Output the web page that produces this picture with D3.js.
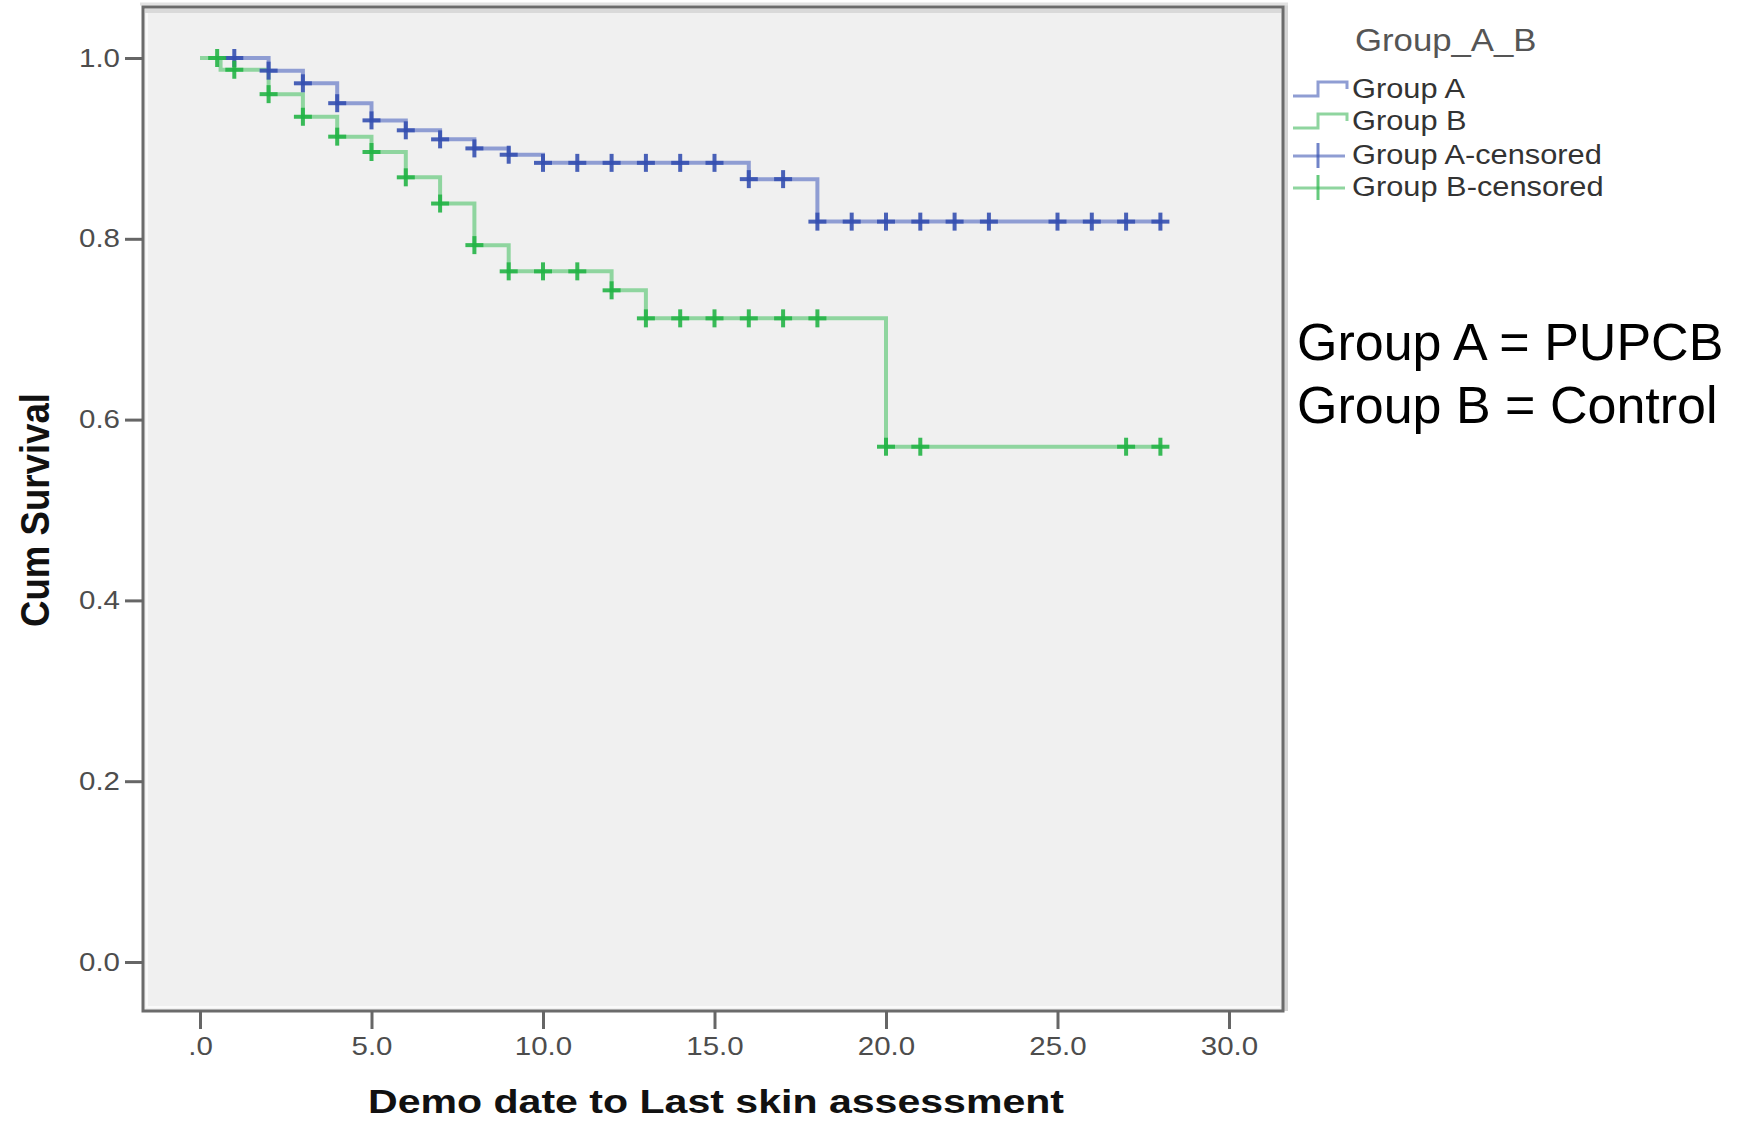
<!DOCTYPE html>
<html>
<head>
<meta charset="utf-8">
<script src="https://cdn.jsdelivr.net/npm/d3@7"></script>
<style>
  body { margin: 0; background: #fff; }
  svg { display: block; font-family: "Liberation Sans", Arial, sans-serif; }
</style>
</head>
<body>
<div id="chart"></div>
<script>
// Kaplan-Meier steps
var groupATimes = [0, 2, 3, 4, 5, 6, 7, 8, 9, 10, 16, 18, 28];
var groupASurv  = [1.0, 0.986, 0.972, 0.950, 0.931, 0.920, 0.910, 0.900, 0.893, 0.884, 0.866, 0.819, 0.819];
var groupACensored = [1, 2, 3, 4, 5, 6, 7, 8, 9, 10, 11, 12, 13, 14, 15, 16, 17, 18, 19, 20, 21, 22, 23, 25, 26, 27, 28];

var groupBTimes = [0, 0.6, 2, 3, 4, 5, 6, 7, 8, 9, 12, 13, 20, 28];
var groupBSurv  = [1.0, 0.987, 0.960, 0.935, 0.913, 0.896, 0.868, 0.839, 0.793, 0.764, 0.743, 0.712, 0.570, 0.570];
var groupBCensored = [0.5, 1, 2, 3, 4, 5, 6, 7, 8, 9, 10, 11, 12, 13, 14, 15, 16, 17, 18, 20, 21, 27, 28];

var xTicks = [0, 5, 10, 15, 20, 25, 30];
var xTickLabels = [".0", "5.0", "10.0", "15.0", "20.0", "25.0", "30.0"];
var yTicks = [0, 0.2, 0.4, 0.6, 0.8, 1.0];
var yTickLabels = ["0.0", "0.2", "0.4", "0.6", "0.8", "1.0"];

var legendTitle = "Group_A_B";
var legendLabels = ["Group A", "Group B", "Group A-censored", "Group B-censored"];
var noteLines = ["Group A = PUPCB", "Group B = Control"];

var width = 1750, height = 1121;
var frame = {left: 143, top: 7, right: 1283, bottom: 1011};

var blueLine = "#8f9dd3", blueMark = "#3550b0";
var greenLine = "#8fd59f", greenMark = "#24b446";

var svg = d3.select("#chart").append("svg")
  .attr("width", width)
  .attr("height", height);

var x = d3.scaleLinear().domain([0, 30]).range([200, 1229]);
var y = d3.scaleLinear().domain([0, 1]).range([962, 58]);

// stretch SPSS style text a bit wider
function stretch(sel, k) {
  sel.each(function () {
    var w = this.getComputedTextLength();
    d3.select(this).attr("textLength", w * k).attr("lengthAdjust", "spacingAndGlyphs");
  });
}

// plot frame
svg.append("rect")
  .attr("x", frame.left).attr("y", frame.top)
  .attr("width", frame.right - frame.left).attr("height", frame.bottom - frame.top)
  .attr("fill", "#f0f0f0");
svg.append("line")
  .attr("x1", frame.left + 2).attr("x2", frame.right - 2)
  .attr("y1", frame.top + 4).attr("y2", frame.top + 4)
  .attr("stroke", "#d9d9d9").attr("stroke-width", 4);
svg.append("line")
  .attr("x1", frame.right + 3).attr("x2", frame.right + 3)
  .attr("y1", frame.top - 3).attr("y2", frame.bottom)
  .attr("stroke", "#d4d4d4").attr("stroke-width", 4);
svg.append("line")
  .attr("x1", frame.left - 3).attr("x2", frame.right + 5)
  .attr("y1", frame.top - 3).attr("y2", frame.top - 3)
  .attr("stroke", "#e2e2e2").attr("stroke-width", 3);
svg.append("path")
  .attr("d", "M" + (frame.left + 4) + "," + (frame.top + 6) + "V" + (frame.bottom - 4) + "H" + (frame.right - 3))
  .attr("fill", "none").attr("stroke", "#fafafa").attr("stroke-width", 2);
svg.append("rect")
  .attr("x", frame.left).attr("y", frame.top)
  .attr("width", frame.right - frame.left).attr("height", frame.bottom - frame.top)
  .attr("fill", "none").attr("stroke", "#6b6b6b").attr("stroke-width", 3);

// axes
var yAxis = svg.append("g")
  .attr("transform", "translate(" + frame.left + ",0)")
  .call(d3.axisLeft(y).tickValues(yTicks)
    .tickFormat(function (d, i) { return yTickLabels[i]; })
    .tickSize(18).tickSizeOuter(0).tickPadding(5));
yAxis.select(".domain").remove();
yAxis.selectAll(".tick line").attr("stroke", "#666").attr("stroke-width", 3);
yAxis.selectAll(".tick text")
  .attr("fill", "#4d4d4d").style("font-size", "25px").attr("font-family", null);
stretch(yAxis.selectAll(".tick text"), 1.18);

var xAxis = svg.append("g")
  .attr("transform", "translate(0," + frame.bottom + ")")
  .call(d3.axisBottom(x).tickValues(xTicks)
    .tickFormat(function (d, i) { return xTickLabels[i]; })
    .tickSize(18).tickSizeOuter(0).tickPadding(8));
xAxis.select(".domain").remove();
xAxis.selectAll(".tick line").attr("stroke", "#666").attr("stroke-width", 3);
xAxis.selectAll(".tick text")
  .attr("fill", "#4d4d4d").style("font-size", "25px").attr("font-family", null);
stretch(xAxis.selectAll(".tick text"), 1.18);

// axis titles
svg.append("text")
  .attr("transform", "translate(49,510) rotate(-90)")
  .attr("text-anchor", "middle")
  .attr("font-weight", "bold")
  .attr("font-size", 40)
  .attr("fill", "#111")
  .attr("textLength", 234).attr("lengthAdjust", "spacingAndGlyphs")
  .text("Cum Survival");

svg.append("text")
  .attr("x", 716).attr("y", 1113)
  .attr("text-anchor", "middle")
  .attr("font-weight", "bold")
  .attr("font-size", 34)
  .attr("fill", "#111")
  .attr("textLength", 696).attr("lengthAdjust", "spacingAndGlyphs")
  .text("Demo date to Last skin assessment");

// curves
function toPoints(times, surv) {
  return times.map(function (t, i) { return [t, surv[i]]; });
}
function survAt(times, surv, t) {
  var i = d3.bisectRight(times, t) - 1;
  return surv[Math.max(0, i)];
}

var line = d3.line()
  .x(function (d) { return x(d[0]); })
  .y(function (d) { return y(d[1]); })
  .curve(d3.curveStepAfter);

var groups = [
  {times: groupATimes, surv: groupASurv, cens: groupACensored, lc: blueLine, mc: blueMark},
  {times: groupBTimes, surv: groupBSurv, cens: groupBCensored, lc: greenLine, mc: greenMark}
];

var plot = svg.append("g");

groups.forEach(function (g) {
  plot.append("path")
    .datum(toPoints(g.times, g.surv))
    .attr("fill", "none")
    .attr("stroke", g.lc)
    .attr("stroke-width", 4)
    .attr("d", line);
});

groups.forEach(function (g) {
  var marks = plot.append("g").selectAll("g")
    .data(g.cens)
    .enter().append("g")
    .attr("transform", function (t) {
      return "translate(" + x(t) + "," + y(survAt(g.times, g.surv, t)) + ")";
    });
  marks.append("line")
    .attr("x1", -9).attr("x2", 9)
    .attr("stroke", g.mc).attr("stroke-width", 4).attr("stroke-opacity", 0.9);
  marks.append("line")
    .attr("y1", -9).attr("y2", 9)
    .attr("stroke", g.mc).attr("stroke-width", 4).attr("stroke-opacity", 0.9);
});

// legend
var legend = svg.append("g");
legend.append("text")
  .attr("x", 1355).attr("y", 51)
  .attr("font-size", 31).attr("fill", "#555")
  .text(legendTitle)
  .call(stretch, 1.12);

var legendRows = [
  {kind: "step", lc: blueLine, mc: blueMark, y: 98},
  {kind: "step", lc: greenLine, mc: greenMark, y: 130},
  {kind: "cross", lc: blueLine, mc: blueMark, y: 164},
  {kind: "cross", lc: greenLine, mc: greenMark, y: 196}
];

legendRows.forEach(function (r, i) {
  var g = legend.append("g");
  if (r.kind === "step") {
    g.append("path")
      .attr("d", "M1293," + (r.y - 2) + "H1318V" + (r.y - 16) + "H1347V" + (r.y - 9))
      .attr("fill", "none").attr("stroke", r.lc).attr("stroke-width", 3);
  } else {
    g.append("line")
      .attr("x1", 1293).attr("x2", 1345).attr("y1", r.y - 8).attr("y2", r.y - 8)
      .attr("stroke", r.lc).attr("stroke-width", 3);
    g.append("line")
      .attr("x1", 1318).attr("x2", 1318).attr("y1", r.y - 21).attr("y2", r.y + 4)
      .attr("stroke", r.mc).attr("stroke-width", 3).attr("stroke-opacity", 0.7);
  }
  g.append("text")
    .attr("x", 1352).attr("y", r.y)
    .attr("font-size", 27).attr("fill", "#333")
    .text(legendLabels[i])
    .call(stretch, 1.14);
});

// note on the right
svg.append("g").selectAll("text")
  .data(noteLines)
  .enter().append("text")
  .attr("x", 1297)
  .attr("y", function (d, i) { return 360 + i * 63; })
  .attr("font-size", 52)
  .attr("fill", "#000")
  .text(function (d) { return d; });
</script>
</body>
</html>
